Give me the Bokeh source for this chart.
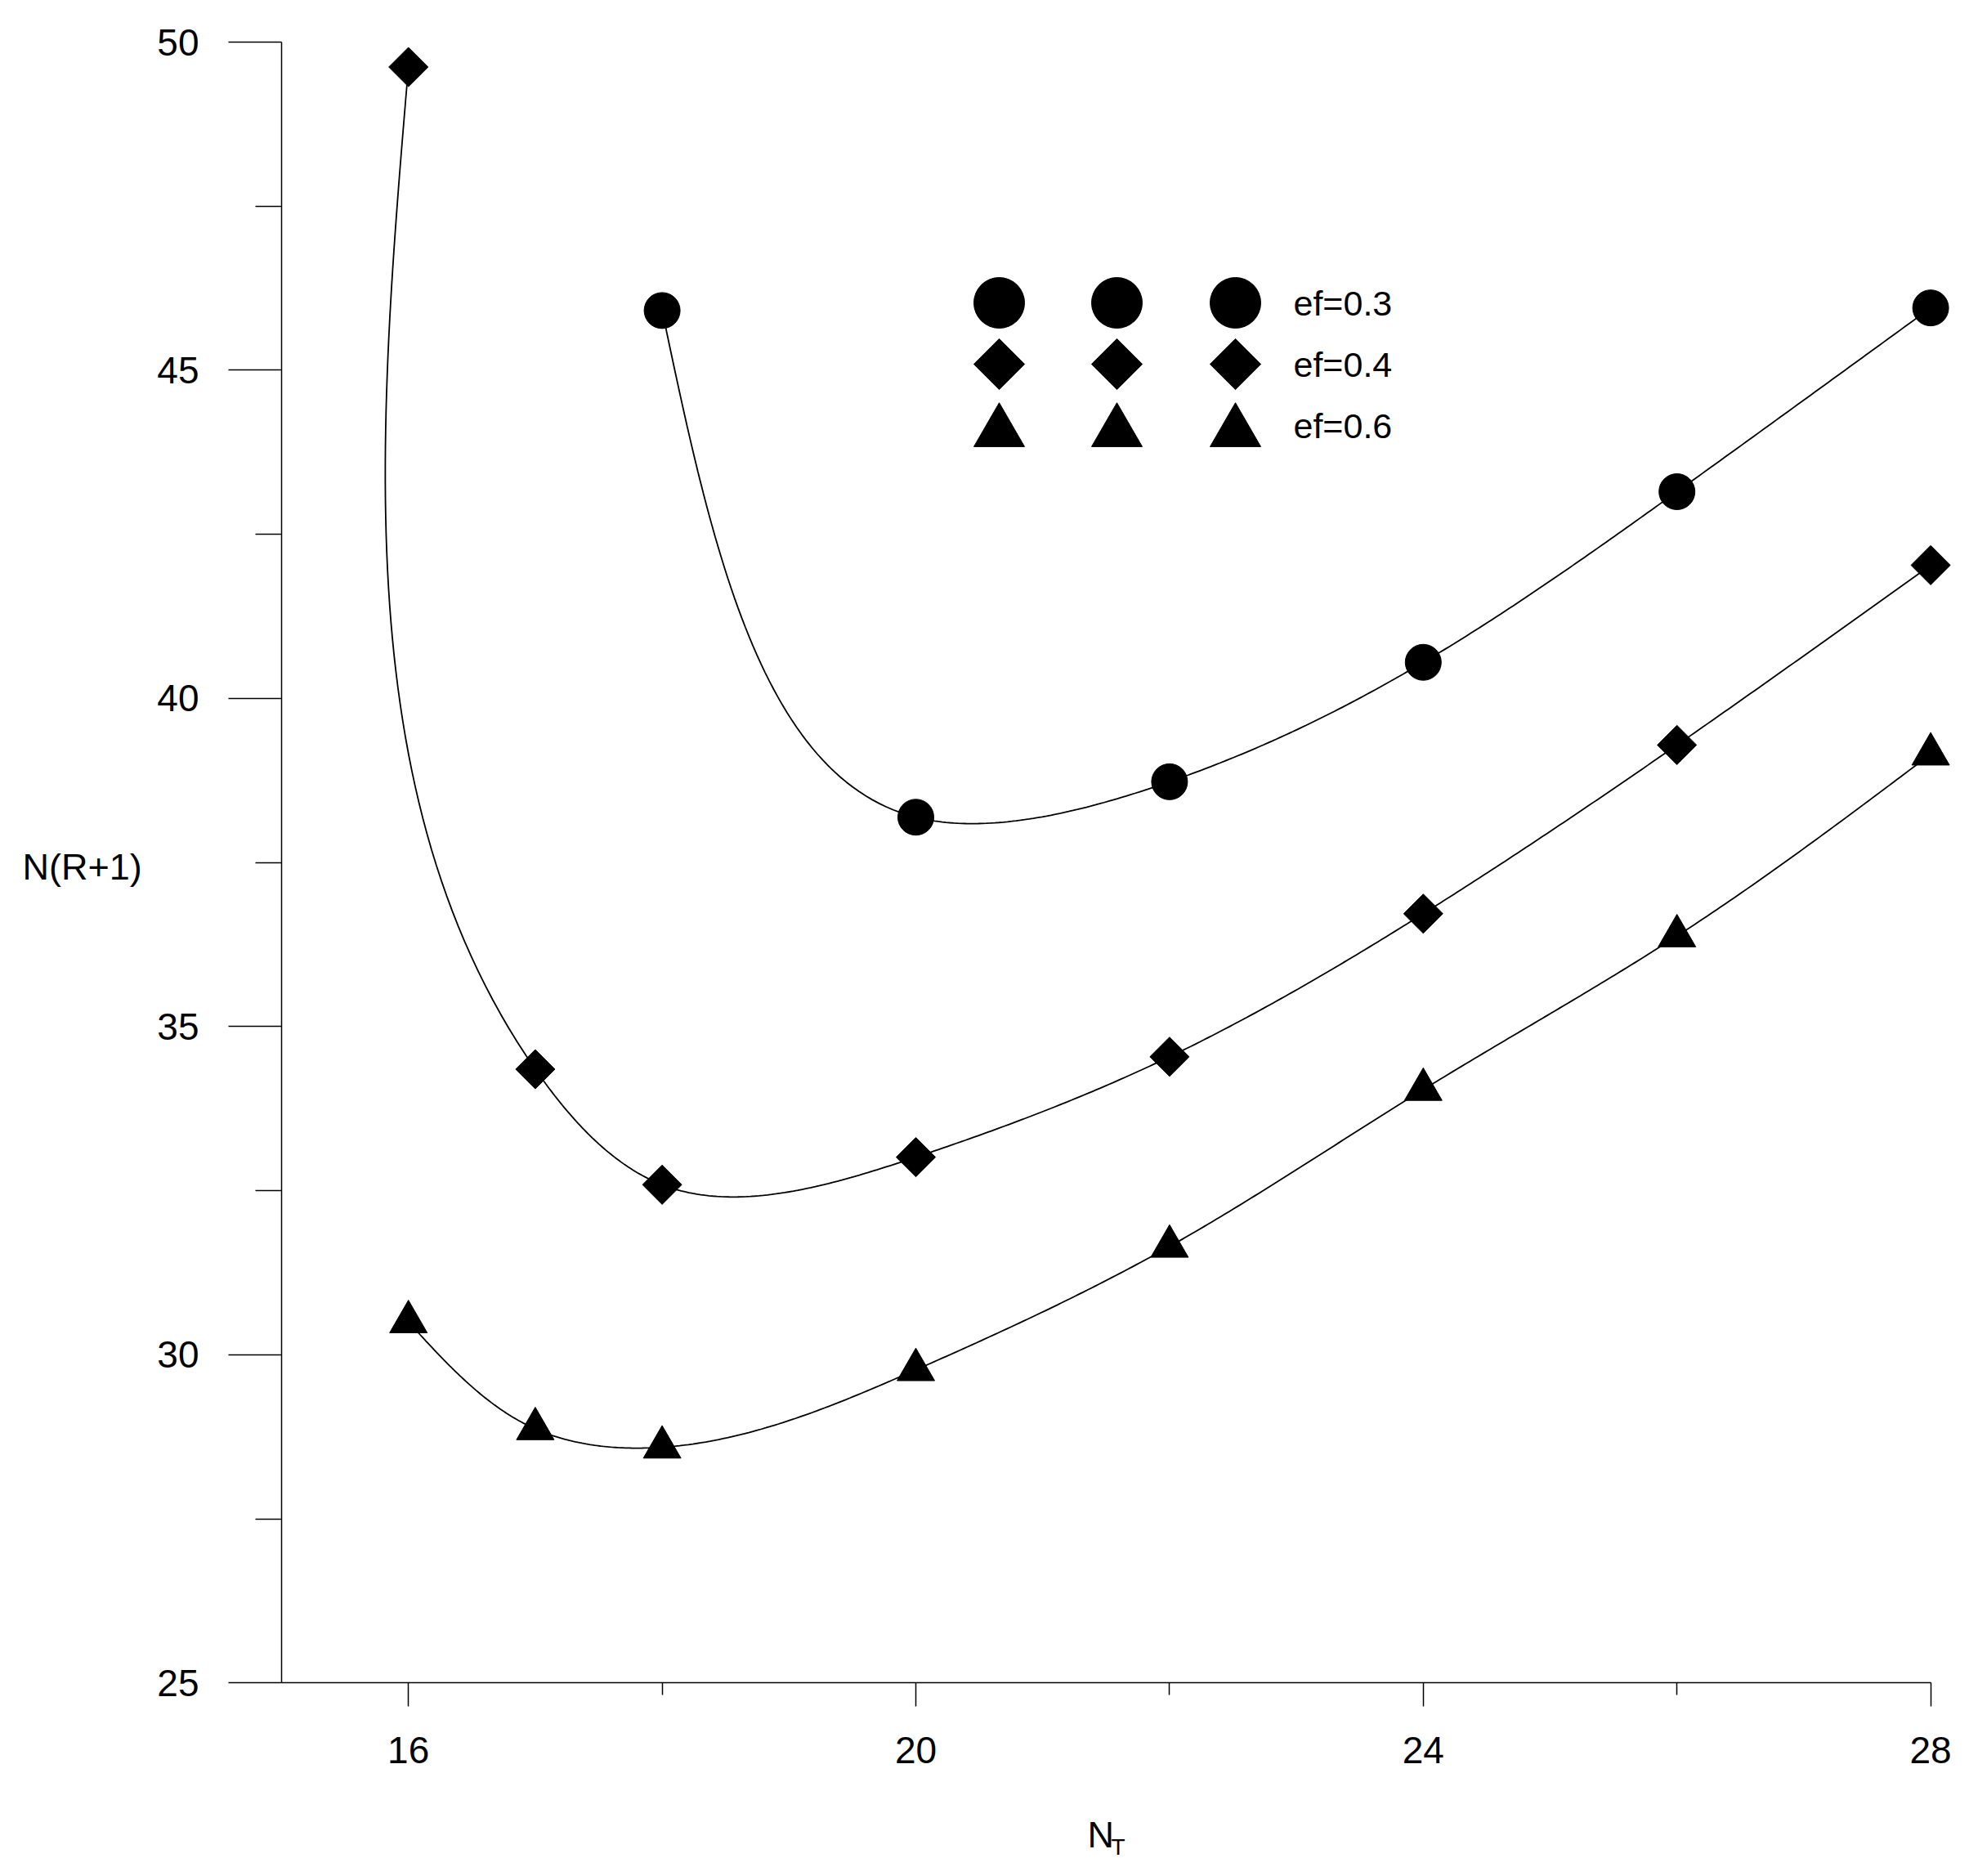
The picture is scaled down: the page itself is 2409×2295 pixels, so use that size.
import numpy as np
from bokeh.plotting import figure
from bokeh.models import FixedTicker, Range1d, Label
from bokeh.embed import file_html
from bokeh.resources import INLINE
from bokeh.core.properties import value

# ---------------- data ----------------
nt_03 = [18, 20, 22, 24, 26, 28]
val_03 = [45.91, 38.19, 38.73, 40.55, 43.15, 45.95]
nt_04 = [16, 17, 18, 20, 22, 24, 26, 28]
val_04 = [49.62, 34.35, 32.59, 33.01, 34.54, 36.72, 39.29, 42.03]
nt_06 = [16, 17, 18, 20, 22, 24, 26, 28]
val_06 = [30.50, 28.87, 28.59, 29.77, 31.65, 34.04, 36.38, 39.15]
series_labels = ["ef=0.3", "ef=0.4", "ef=0.6"]
x_major_ticks = [16, 20, 24, 28]
x_minor_ticks = [18, 22, 26]
y_major_ticks = [25, 30, 35, 40, 45, 50]
y_minor_ticks = [27.5, 32.5, 37.5, 42.5, 47.5]
x_title = "N"
x_title_sub = "T"
y_title = "N(R+1)"

# ---------------- layout (canvas pixels) ----------------
W, H = 2393, 2290
SX, SY = 155.2, 80.29            # px per data unit
AX_X, AX_Y = 15.0, 25.0          # where the axes cross
AX_PX, TOP_PX = 344, 51          # pixel of x=15 and of y=50
X0 = AX_X - AX_PX / SX
X1 = X0 + W / SX
Y1 = 50 + TOP_PX / SY
Y0 = Y1 - H / SY
FONT = "Liberation Sans"
ALPHA = 0.96                      # spline parameterisation exponent

def px_x(px):
    return X0 + px / SX

def py_y(py):
    return Y1 - py / SY

def natural_spline(t, v):
    n = len(t)
    h = np.diff(t)
    A = np.zeros((n, n))
    b = np.zeros(n)
    A[0, 0] = 1.0
    A[-1, -1] = 1.0
    for i in range(1, n - 1):
        A[i, i - 1] = h[i - 1]
        A[i, i] = 2 * (h[i - 1] + h[i])
        A[i, i + 1] = h[i]
        b[i] = 6 * ((v[i + 1] - v[i]) / h[i] - (v[i] - v[i - 1]) / h[i - 1])
    M = np.linalg.solve(A, b)
    out = []
    for i in range(n - 1):
        s = np.linspace(t[i], t[i + 1], 60, endpoint=(i == n - 2))
        a = (t[i + 1] - s) / h[i]
        bb = (s - t[i]) / h[i]
        out.append(a * v[i] + bb * v[i + 1] + ((a**3 - a) * M[i] + (bb**3 - bb) * M[i + 1]) * h[i]**2 / 6)
    return np.concatenate(out)

def smooth(xs, ys):
    px = np.asarray(xs, float) * SX
    py = np.asarray(ys, float) * SY
    d = np.hypot(np.diff(px), np.diff(py)) ** ALPHA
    t = np.concatenate([[0], np.cumsum(d)])
    return natural_spline(t, px) / SX, natural_spline(t, py) / SY

p = figure(width=W, height=H, x_range=Range1d(X0, X1), y_range=Range1d(Y0, Y1),
           output_backend="svg", toolbar_location=None, title=None,
           min_border_left=0, min_border_right=0, min_border_top=0, min_border_bottom=0)
p.outline_line_color = None
p.xgrid.visible = False
p.ygrid.visible = False
p.background_fill_color = "white"
p.border_fill_color = "white"

for ax, maj, mnr, tout, mout, loc, bnd, sto in [
        (p.xaxis, x_major_ticks, x_minor_ticks, 29, 15, AX_Y, (AX_X, 28), 37),
        (p.yaxis, y_major_ticks, y_minor_ticks, 65, 32, AX_X, (25, 50), 36)]:
    ax.fixed_location = loc
    ax.bounds = bnd
    ax.ticker = FixedTicker(ticks=maj, minor_ticks=mnr)
    ax.major_tick_in = 0
    ax.minor_tick_in = 0
    ax.major_tick_out = tout
    ax.minor_tick_out = mout
    ax.axis_line_color = "black"
    ax.major_tick_line_color = "black"
    ax.minor_tick_line_color = "black"
    ax.axis_line_width = 1.5
    ax.major_tick_line_width = 1.5
    ax.minor_tick_line_width = 1.5
    ax.major_label_text_font = FONT
    ax.major_label_text_font_size = "46px"
    ax.major_label_text_color = "black"
    ax.major_label_standoff = sto

series = [(nt_03, val_03, "circle", 44, 0.0),
          (nt_04, val_04, "square", 34, np.pi / 4),
          (nt_06, val_06, "triangle", 46, 0.0)]

for xs, ys, mk, sz, ang in series:
    cx, cy = smooth(xs, ys)
    p.line(cx, cy, line_color="black", line_width=1.8)
for xs, ys, mk, sz, ang in series:
    p.scatter(xs, ys, marker=mk, size=sz, angle=ang, fill_color="black", line_color="black")

# ---------------- legend (three symbols per row, then label) ----------------
leg_cols_px = [1222, 1366, 1511]
leg_rows_px = [370, 445, 528]
leg_text_px = 1582
leg_base_px = [370, 445, 520]
leg_sizes = [62, 44, 62]
for (xs, ys, mk, sz, ang), rpx, bpx, lab, lsz in zip(series, leg_rows_px, leg_base_px, series_labels, leg_sizes):
    p.scatter([px_x(c) for c in leg_cols_px], [py_y(rpx)] * 3, marker=mk, size=lsz,
              angle=ang, fill_color="black", line_color="black")
    p.text(x=[px_x(leg_text_px)], y=[py_y(bpx)], text=[lab], text_font=value(FONT),
           text_font_size="43px", text_color="black", text_baseline="alphabetic", text_align="left")

# ---------------- axis titles ----------------
def title(txt, lx, by, size):
    p.add_layout(Label(x=px_x(lx), y=py_y(by), text=txt, text_font=FONT,
                       text_font_size=size, text_color="black", text_align="left",
                       text_baseline="alphabetic"))

title(y_title, 27, 1060, "45px")
title(x_title, 1330, 2244, "45px")
title(x_title_sub, 1359, 2259, "28px")

open("out.html", "w").write(file_html(p, INLINE))
